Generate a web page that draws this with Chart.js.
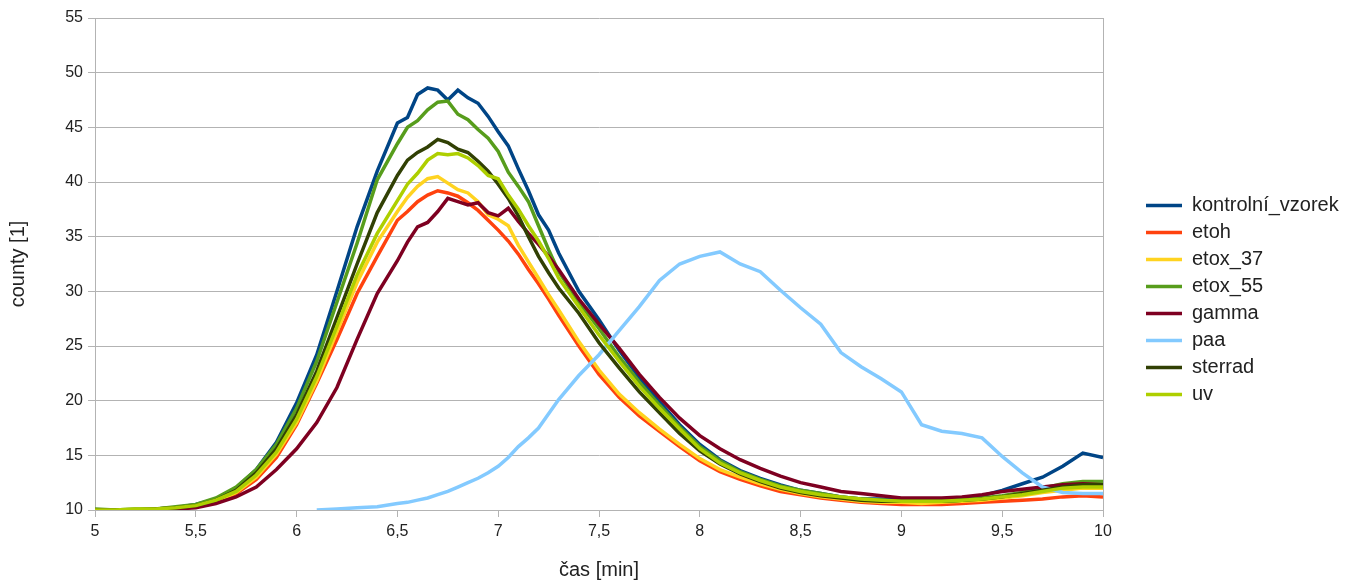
<!DOCTYPE html>
<html>
<head>
<meta charset="utf-8">
<script src="https://cdn.jsdelivr.net/npm/chart.js@4.4.0/dist/chart.umd.min.js"></script>
<style>
html, body { margin: 0; padding: 0; background: #fff; }
</style>
</head>
<body>
<canvas id="chart" width="1347" height="582"></canvas>
<script>
// čas [min]
const xs = [5.0, 5.1, 5.2, 5.3, 5.4, 5.5, 5.6, 5.7, 5.8, 5.9, 6.0, 6.1, 6.2, 6.3, 6.4, 6.5,
  6.55, 6.6, 6.65, 6.7, 6.75, 6.8, 6.85, 6.9, 6.95, 7.0, 7.05, 7.1, 7.15, 7.2, 7.25, 7.3,
  7.4, 7.5, 7.6, 7.7, 7.8, 7.9, 8.0, 8.1, 8.2, 8.3, 8.4, 8.5, 8.6, 8.7, 8.8, 8.9, 9.0,
  9.1, 9.2, 9.3, 9.4, 9.5, 9.6, 9.7, 9.8, 9.9, 10.0];

const kontrolni = [10.0, 10.0, 10.0, 10.1, 10.2, 10.5, 11.0, 12.0, 13.7, 16.2, 19.8, 24.2, 30.0, 35.9, 41.0, 45.4,
  45.9, 48.0, 48.6, 48.4, 47.5, 48.4, 47.7, 47.2, 46.0, 44.6, 43.3, 41.2, 39.2, 37.0, 35.6, 33.5,
  30.0, 27.4, 24.6, 22.1, 19.9, 17.8, 16.0, 14.6, 13.6, 12.9, 12.3, 11.8, 11.5, 11.2, 11.0, 11.0, 10.9,
  10.9, 11.0, 11.1, 11.3, 11.8, 12.4, 13.0, 14.0, 15.2, 14.8];
const etoh = [10.0, 10.0, 10.0, 10.0, 10.1, 10.3, 10.7, 11.5, 12.8, 14.8, 17.8, 21.6, 25.6, 29.8, 33.2, 36.5,
  37.3, 38.2, 38.8, 39.2, 39.0, 38.7, 38.1, 37.4, 36.5, 35.6, 34.6, 33.4, 32.0, 30.7, 29.3, 27.8,
  25.0, 22.4, 20.3, 18.6, 17.2, 15.8, 14.5, 13.5, 12.8, 12.2, 11.7, 11.4, 11.1, 10.9, 10.7, 10.6, 10.5,
  10.5, 10.5, 10.6, 10.7, 10.8, 10.9, 11.0, 11.2, 11.3, 11.2];
const etox37 = [10.0, 10.0, 10.0, 10.1, 10.2, 10.4, 10.8, 11.6, 13.0, 15.1, 18.0, 21.8, 26.3, 30.8, 34.5, 37.3,
  38.6, 39.6, 40.3, 40.5, 39.9, 39.3, 39.0, 38.2, 37.0, 36.6, 36.0, 34.2, 32.7, 31.2, 29.7, 28.3,
  25.4, 22.8, 20.6, 18.9, 17.4, 16.0, 14.7, 13.7, 13.0, 12.4, 11.9, 11.5, 11.2, 11.0, 10.8, 10.7, 10.7,
  10.6, 10.7, 10.8, 10.9, 11.1, 11.3, 11.6, 11.8, 12.0, 12.0];
const etox55 = [10.1, 10.0, 10.1, 10.1, 10.3, 10.5, 11.1, 12.1, 13.7, 16.0, 19.3, 23.6, 29.0, 34.4, 40.2, 43.5,
  45.0, 45.6, 46.6, 47.3, 47.4, 46.2, 45.7, 44.8, 44.0, 42.8, 40.9, 39.6, 38.2, 36.0, 33.8, 31.8,
  29.0, 26.6, 24.0, 21.7, 19.6, 17.6, 15.8, 14.5, 13.5, 12.8, 12.2, 11.8, 11.5, 11.2, 11.0, 10.9, 10.8,
  10.8, 10.8, 10.9, 11.1, 11.3, 11.6, 12.0, 12.4, 12.6, 12.6];
const gamma = [10.0, 9.9, 10.0, 10.0, 10.1, 10.2, 10.6, 11.2, 12.1, 13.7, 15.6, 18.0, 21.2, 25.6, 29.8, 32.8,
  34.5, 35.9, 36.3, 37.3, 38.5, 38.2, 37.9, 38.1, 37.2, 36.9, 37.6, 36.4, 35.3, 34.3, 33.2, 32.0,
  29.3, 27.0, 24.8, 22.4, 20.3, 18.4, 16.8, 15.6, 14.6, 13.8, 13.1, 12.5, 12.1, 11.7, 11.5, 11.3, 11.1,
  11.1, 11.1, 11.2, 11.4, 11.7, 11.9, 12.1, 12.3, 12.4, 12.3];
const paa = [null, null, null, null, null, null, null, null, null, null, null, 10.0, 10.1, 10.2, 10.3, 10.6,
  10.7, 10.9, 11.1, 11.4, 11.7, 12.1, 12.5, 12.9, 13.4, 14.0, 14.8, 15.8, 16.6, 17.5, 18.8, 20.1,
  22.3, 24.2, 26.4, 28.6, 31.0, 32.5, 33.2, 33.6, 32.5, 31.8, 30.1, 28.5, 27.0, 24.4, 23.1, 22.0, 20.8,
  17.8, 17.2, 17.0, 16.6, 14.9, 13.4, 12.1, 11.6, 11.5, 11.5];
const sterrad = [10.0, 10.0, 10.0, 10.1, 10.2, 10.4, 10.9, 11.8, 13.4, 15.6, 18.7, 22.7, 27.6, 32.5, 37.2, 40.6,
  42.0, 42.7, 43.2, 43.9, 43.6, 43.0, 42.7, 41.9, 41.0, 39.8, 38.5, 36.9, 35.0, 33.2, 31.7, 30.3,
  28.0, 25.3, 23.0, 20.8, 18.9, 17.0, 15.4, 14.2, 13.3, 12.6, 12.0, 11.6, 11.3, 11.1, 10.9, 10.8, 10.8,
  10.8, 10.8, 10.9, 11.0, 11.2, 11.5, 11.8, 12.1, 12.3, 12.3];
const uv = [10.0, 10.0, 10.1, 10.1, 10.2, 10.4, 10.9, 11.7, 13.2, 15.3, 18.3, 22.2, 26.8, 31.5, 35.3, 38.3,
  39.8, 40.8, 42.0, 42.6, 42.5, 42.6, 42.2, 41.5, 40.6, 40.3, 38.8, 37.5, 36.0, 34.6, 33.0, 31.2,
  28.6, 26.0, 23.6, 21.3, 19.3, 17.4, 15.6, 14.3, 13.4, 12.7, 12.1, 11.7, 11.4, 11.2, 11.0, 10.9, 10.8,
  10.8, 10.8, 10.9, 11.0, 11.2, 11.4, 11.7, 12.0, 12.1, 12.1];

const seriesNames = ['kontrolní_vzorek', 'etoh', 'etox_37', 'etox_55', 'gamma', 'paa', 'sterrad', 'uv'];
const seriesValues = [kontrolni, etoh, etox37, etox55, gamma, paa, sterrad, uv];
const seriesColors = ['#004586', '#ff420e', '#ffd320', '#579d1c', '#7e0021', '#83caff', '#314004', '#aecf00'];

const gridColor = '#b3b3b3';
const textColor = '#222222';
const font = 'Liberation Sans, Arial, sans-serif';

// legenda: pevná šířka a odsazení od grafu
const legendPlace = {
    id: 'legendPlace',
    beforeLayout(chart) {
        const lg = chart.legend;
        if (lg && !lg._patched) {
            const fit = lg.fit;
            lg.fit = function () {
                fit.call(this);
                this.width = 244;
            };
            lg._patched = true;
        }
    },
    afterLayout(chart) {
        const lg = chart.legend;
        lg.left += 36;
        lg.right += 36;
    }
};

// pravý okraj oblasti grafu
const rightBorder = {
    id: 'rightBorder',
    beforeDatasetsDraw(chart) {
        const a = chart.chartArea;
        const ctx = chart.ctx;
        ctx.save();
        ctx.strokeStyle = gridColor;
        ctx.lineWidth = 1;
        ctx.beginPath();
        ctx.moveTo(Math.round(a.right) + 0.5, a.top);
        ctx.lineTo(Math.round(a.right) + 0.5, a.bottom);
        ctx.stroke();
        ctx.restore();
    }
};

window.addEventListener('load', () => {
    const datasets = seriesNames.map((name, i) => ({
        label: name,
        data: xs.map((x, j) => ({ x: x, y: seriesValues[i][j] })),
        borderColor: seriesColors[i],
        backgroundColor: seriesColors[i],
        borderWidth: 3.5,
        pointRadius: 0,
        tension: 0,
        fill: false,
        order: seriesNames.length - i // poslední řada nahoře
    }));

    new Chart(document.getElementById('chart'), {
        type: 'line',
        data: { datasets: datasets },
        options: {
            responsive: false,
            animation: false,
            layout: { padding: { top: 18, right: 0, bottom: 0, left: 0 } },
            plugins: {
                legend: {
                    position: 'right',
                    align: 'center',
                    labels: {
                        usePointStyle: true,
                        pointStyle: 'line',
                        pointStyleWidth: 36,
                        padding: 7,
                        color: textColor,
                        font: { family: font, size: 20 },
                        sort: (a, b) => a.datasetIndex - b.datasetIndex
                    }
                },
                tooltip: { enabled: false }
            },
            scales: {
                x: {
                    type: 'linear',
                    min: 5,
                    max: 10,
                    afterFit: (s) => { s.height = 72; },
                    grid: { drawOnChartArea: false, drawTicks: true, tickLength: 7, color: gridColor },
                    border: { display: true, color: gridColor },
                    ticks: {
                        stepSize: 0.5,
                        padding: 5,
                        color: textColor,
                        font: { family: font, size: 16 },
                        maxRotation: 0,
                        callback: (v) => String(v).replace('.', ',')
                    },
                    title: {
                        display: true,
                        text: 'čas [min]',
                        color: textColor,
                        font: { family: font, size: 20 },
                        padding: { top: 0, bottom: 0 }
                    }
                },
                y: {
                    min: 10,
                    max: 55,
                    afterFit: (s) => { s.width = 95; },
                    grid: { color: gridColor, tickLength: 7 },
                    border: { display: true, color: gridColor },
                    ticks: {
                        stepSize: 5,
                        padding: 5,
                        color: textColor,
                        font: { family: font, size: 16 }
                    },
                    title: {
                        display: true,
                        text: 'county [1]',
                        color: textColor,
                        font: { family: font, size: 20 },
                        padding: { top: 6, bottom: 0 }
                    }
                }
            }
        },
        plugins: [legendPlace, rightBorder]
    });
});
</script>
</body>
</html>
